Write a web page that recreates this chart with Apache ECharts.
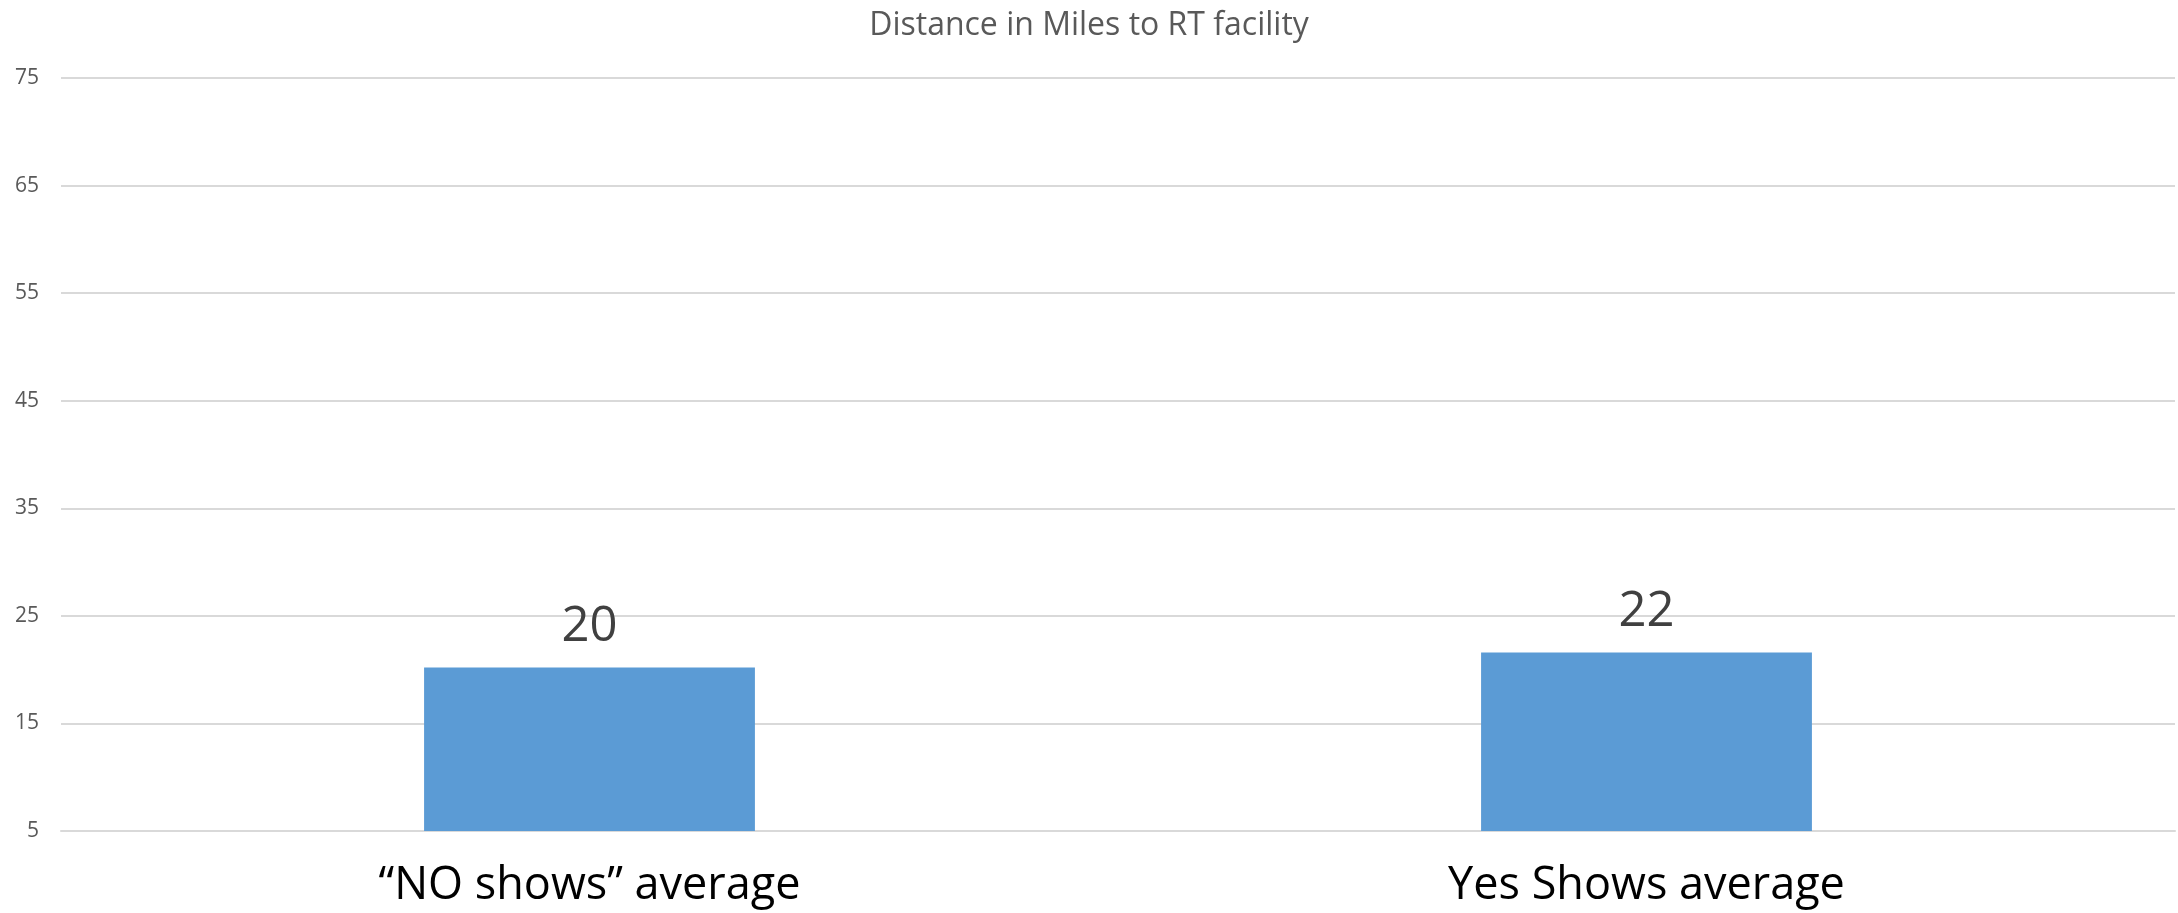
<!DOCTYPE html>
<html>
<head>
<meta charset="utf-8">
<script src="https://cdn.jsdelivr.net/npm/echarts@6/dist/echarts.min.js"></script>
<style>
	html, body { margin: 0; padding: 0; background: #fff; }
	#main { width: 2178px; height: 913px; }
</style>
</head>
<body>
<div id="main"></div>
<script>
var categories = ['\u201cNO shows\u201d average', 'Yes Shows average'];
var distances = [20.2, 21.6];
var yTicks = { min: 5, max: 75, interval: 10 };

var chart = echarts.init(document.getElementById('main'));
chart.setOption({
	backgroundColor: '#fff',
	title: {
		text: 'Distance in Miles to RT facility',
		left: 'center',
		top: 5,
		textStyle: {
			fontFamily: 'Open Sans',
			fontSize: 32,
			fontWeight: 'normal',
			color: '#595959'
		}
	},
	grid: {
		left: 61,
		right: 3,
		top: 78,
		bottom: 82
	},
	xAxis: {
		type: 'category',
		data: categories,
		axisLine: { lineStyle: { color: '#d9d9d9', width: 2 } },
		axisTick: { show: false },
		axisLabel: {
			margin: 33,
			fontFamily: 'Open Sans',
			fontSize: 45,
			color: '#000'
		}
	},
	yAxis: {
		type: 'value',
		min: yTicks.min,
		max: yTicks.max,
		interval: yTicks.interval,
		axisLine: { show: false },
		axisTick: { show: false },
		axisLabel: {
			margin: 22,
			fontFamily: 'Open Sans',
			fontSize: 21,
			color: '#595959'
		},
		splitLine: { lineStyle: { color: '#d9d9d9', width: 2 } }
	},
	series: [
		{
			type: 'bar',
			data: distances,
			barWidth: '31.3%',
			itemStyle: { color: '#5b9bd5' },
			label: {
				show: true,
				position: 'top',
				distance: 16,
				fontFamily: 'Open Sans',
				fontSize: 49,
				color: '#404040',
				formatter: function (p) {
					return Math.round(p.value);
				}
			}
		}
	]
});
</script>
</body>
</html>
